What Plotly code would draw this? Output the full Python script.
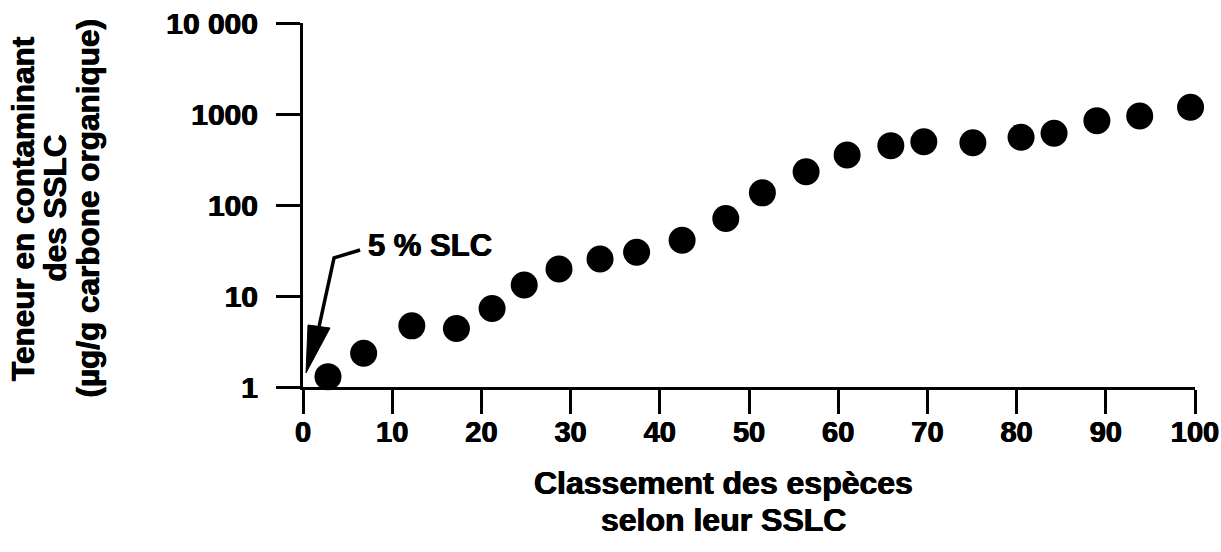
import plotly.graph_objects as go
import math

# ---- data ----
rank = [2.8, 6.8, 12.2, 17.2, 21.2, 24.8, 28.7, 33.3, 37.4, 42.5, 47.4,
        51.5, 56.4, 61.0, 65.9, 69.6, 75.1, 80.5, 84.2, 89.0, 93.8, 99.5]
conc = [1.3, 2.35, 4.7, 4.4, 7.3, 13.2, 19.8, 25.5, 30.2, 41, 71,
        136, 232, 354, 449, 496, 484, 555, 614, 845, 951, 1185]

x_ticks = [0, 10, 20, 30, 40, 50, 60, 70, 80, 90, 100]
y_ticks = [1, 10, 100, 1000, 10000]
y_ticktext = ["1", "10", "100", "1000", "10 000"]

y_title_lines = ["Teneur en contaminant", "des SSLC", "(µg/g carbone organique)"]
x_title_lines = ["Classement des espèces", "selon leur SSLC"]

label_text = "5 % SLC"
label_x, label_y = 7.1, 35.5
leader_x = [6.4, 3.48, 1.8]
leader_y = [32.0, 26.2, 4.6]
head_x = [0.34, 0.56, 3.03, 0.34]
head_y = [1.43, 4.8, 4.45, 1.43]

FONT = "Liberation Sans"
SHADOW = "0.5px 0 0 black, -0.5px 0 0 black"


def tfont(size):
    return dict(family=FONT, size=size, color="black", shadow=SHADOW)


fig = go.Figure()
fig.add_trace(go.Scatter(x=leader_x, y=leader_y, mode="lines",
                         line=dict(color="black", width=3.5),
                         hoverinfo="skip", showlegend=False, cliponaxis=False))
fig.add_trace(go.Scatter(x=head_x, y=head_y, mode="lines", fill="toself",
                         fillcolor="black", line=dict(color="black", width=1),
                         hoverinfo="skip", showlegend=False, cliponaxis=False))
fig.add_trace(go.Scatter(x=rank, y=conc, mode="markers",
                         marker=dict(color="black", size=27, line=dict(width=0)),
                         showlegend=False, cliponaxis=False))

fig.add_annotation(x=label_x, y=math.log10(label_y), xref="x", yref="y",
                   text="<b>" + label_text + "</b>", showarrow=False,
                   xanchor="left", yanchor="middle", font=tfont(31))

for txt, yp in zip(x_title_lines, [-0.2637, -0.3654]):
    fig.add_annotation(x=0.4709, y=yp, xref="paper", yref="paper",
                       text="<b>" + txt + "</b>", showarrow=False,
                       xanchor="center", yanchor="middle", font=tfont(32))

for txt, xp in zip(y_title_lines, [-0.3140, -0.2785, -0.2415]):
    fig.add_annotation(x=xp, y=0.4918, xref="paper", yref="paper",
                       text="<b>" + txt + "</b>", showarrow=False,
                       xanchor="center", yanchor="middle", textangle=-90,
                       font=tfont(31.5))

fig.update_layout(
    width=1221, height=552,
    margin=dict(l=303, r=26, t=23, b=165),
    paper_bgcolor="white", plot_bgcolor="white",
    font=dict(family=FONT, color="black"),
)
fig.update_xaxes(range=[0, 100], tickvals=x_ticks,
                 ticktext=["<b>%d</b>" % v for v in x_ticks],
                 ticklabeloverflow="allow", automargin=False, ticklabelstandoff=-7,
                 showgrid=False, zeroline=False, showline=True, linecolor="black",
                 linewidth=3, ticks="outside", ticklen=24, tickwidth=3, tickcolor="black",
                 tickfont=tfont(29))
fig.update_yaxes(type="log", range=[0, 4], tickvals=y_ticks,
                 ticktext=["<b>" + t + "</b>" for t in y_ticktext],
                 ticklabeloverflow="allow", automargin=False, ticklabelstandoff=12,
                 showgrid=False, zeroline=False, showline=True, linecolor="black",
                 linewidth=3, ticks="outside", ticklen=24, tickwidth=3, tickcolor="black",
                 tickfont=tfont(30))

fig.write_html("out.html", config={"displayModeBar": False},
               post_script="document.body.style.margin='0';document.body.style.overflow='hidden';")
